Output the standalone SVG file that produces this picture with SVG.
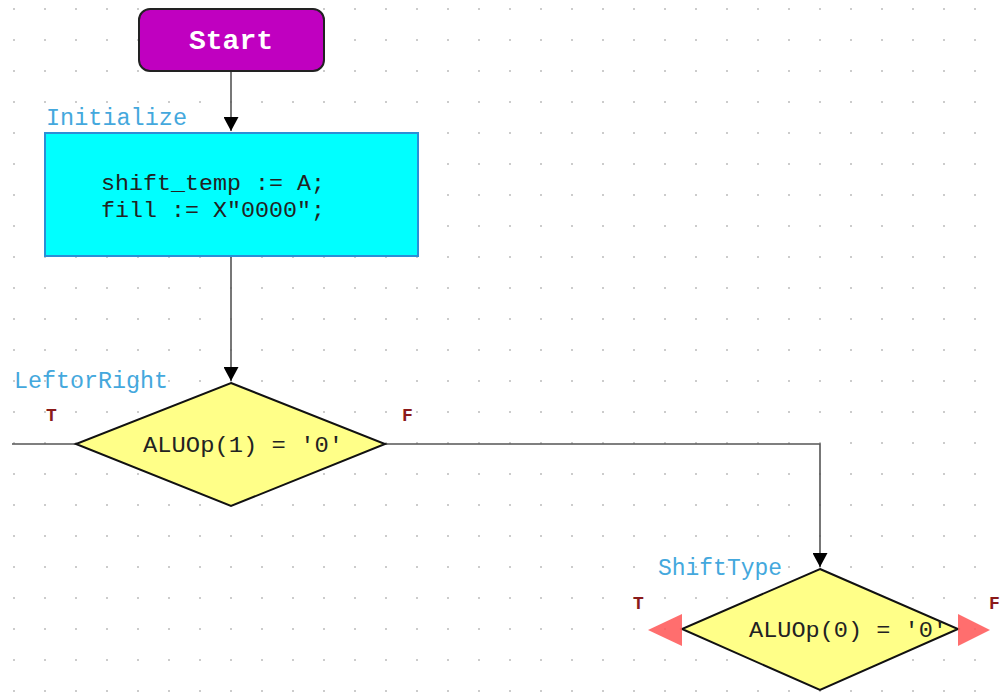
<svg xmlns="http://www.w3.org/2000/svg" width="1000" height="692" viewBox="0 0 1000 692">
<style>
.code{font-family:"Liberation Mono","Courier New",monospace;font-size:22px;fill:#222}
.lbl{font-family:"Liberation Mono","Courier New",monospace;font-size:23px;fill:#44a8dd}
.tf{font-family:"Liberation Mono","Courier New",monospace;font-size:18px;font-weight:bold;fill:#8b1a1a}
.conn{fill:none;stroke:#555;stroke-width:1.6}
.dia{fill:#ffff88;stroke:#111;stroke-width:2}
</style>
<defs>
<pattern id="grid" patternUnits="userSpaceOnUse" x="13" y="8" width="31" height="31">
<rect x="0" y="0" width="2" height="2" fill="#cccccc"/>
</pattern>
<marker id="arr" viewBox="0 0 14 15" refX="14" refY="7.5" markerWidth="14" markerHeight="15" markerUnits="userSpaceOnUse" orient="auto">
<path d="M0,0 L14,7.5 L0,15 Z" fill="#000"/>
</marker>
</defs>
<rect width="1000" height="692" fill="#fff"/>
<rect width="1000" height="692" fill="url(#grid)"/>
<g id="connectors">
<line class="conn" x1="231" y1="71" x2="231" y2="131" marker-end="url(#arr)"/>
<line class="conn" x1="231" y1="256" x2="231" y2="381" marker-end="url(#arr)"/>
<line class="conn" x1="12" y1="444" x2="76" y2="444"/>
<polyline class="conn" points="385,444 820,444 820,567" marker-end="url(#arr)"/>
</g>
<g id="start">
<rect x="139" y="9" width="185" height="62" rx="11" fill="#c000c0" stroke="#222" stroke-width="2"/>
<text x="231" y="49" text-anchor="middle" font-family="Liberation Mono, Courier New, monospace" font-size="28" font-weight="bold" fill="#fff">Start</text>
</g>
<g id="initialize">
<text class="lbl" x="46" y="125" textLength="141" lengthAdjust="spacingAndGlyphs">Initialize</text>
<rect x="45" y="133" width="373" height="123" fill="#00ffff" stroke="#2b8fd6" stroke-width="2"/>
<text class="code" x="101" y="190" textLength="224" lengthAdjust="spacingAndGlyphs">shift_temp := A;</text>
<text class="code" x="101" y="217" textLength="224" lengthAdjust="spacingAndGlyphs">fill := X"0000";</text>
</g>
<g id="leftorright">
<text class="lbl" x="14" y="388" textLength="154" lengthAdjust="spacingAndGlyphs">LeftorRight</text>
<polygon class="dia" points="231,383 385,444 231,506 76,444"/>
<text class="code" x="143" y="452" textLength="200" lengthAdjust="spacingAndGlyphs">ALUOp(1) = '0'</text>
<text class="tf" x="46" y="421">T</text>
<text class="tf" x="402" y="421">F</text>
</g>
<g id="shifttype">
<text class="lbl" x="658" y="575" textLength="124" lengthAdjust="spacingAndGlyphs">ShiftType</text>
<polygon class="dia" points="820,569 958,629 820,690 682,629"/>
<text class="code" x="749" y="637" textLength="198" lengthAdjust="spacingAndGlyphs">ALUOp(0) = '0'</text>
<polygon points="648,630 682,614 682,646" fill="#ff5555" fill-opacity="0.85"/>
<polygon points="990,630 958,614 958,646" fill="#ff5555" fill-opacity="0.85"/>
<text class="tf" x="633" y="609">T</text>
<text class="tf" x="989" y="609">F</text>
</g>
</svg>
